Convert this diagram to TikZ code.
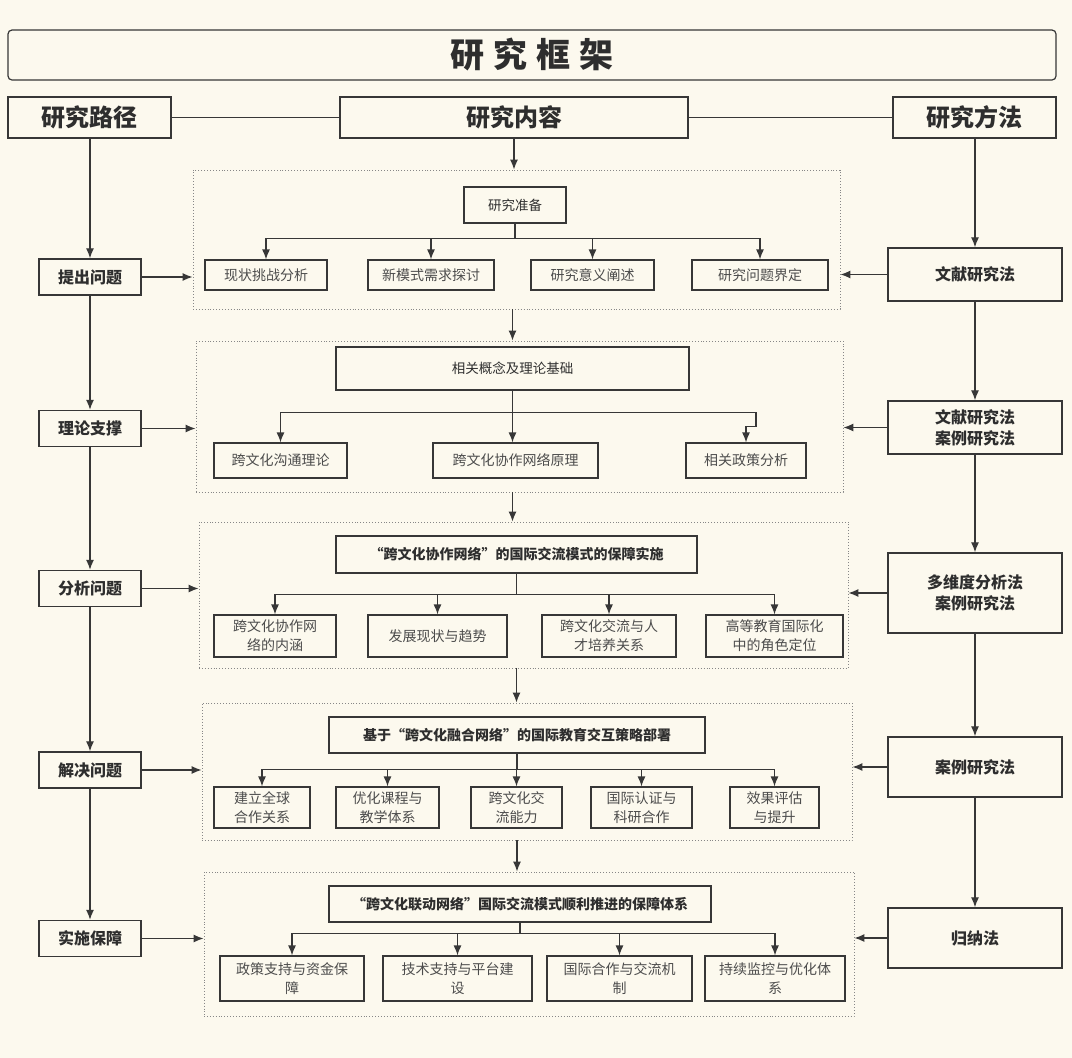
\documentclass[tikz,border=0pt]{standalone}
\usepackage{fontspec}
\setmainfont{Noto Sans CJK SC}
\usetikzlibrary{arrows.meta}
\definecolor{PaperBg}{RGB}{252,249,238}
\definecolor{InkGray}{RGB}{55,55,55}
\definecolor{FrameGray}{RGB}{135,135,135}
\tikzset{
  sz/.style 2 args={minimum width=#1pt,minimum height=#2pt},
  box/.style={draw=InkGray,line width=1.4pt,align=center,inner sep=2pt,text=black!82},
  titlebox/.style={box,rounded corners=4pt,line width=1.2pt,font=\fontsize{34}{40}\selectfont\bfseries},
  headbox/.style={box,font=\fontsize{24}{28}\selectfont\bfseries},
  sidebox/.style={box,font=\fontsize{16}{21}\selectfont\bfseries},
  subbox/.style={box,font=\fontsize{13.5}{18}\selectfont},
  keybox/.style={box,font=\fontsize{14}{18}\selectfont\bfseries},
  leaf/.style={box,line width=1.2pt,font=\fontsize{14}{19}\selectfont,text=black!70},
  group/.style={draw=FrameGray,dotted,line width=0.9pt},
  arr/.style={-{Latex[length=10pt,width=8pt]},line width=1.2pt,draw=InkGray},
  link/.style={line width=1.2pt,draw=InkGray}
}

\begin{document}
\begin{tikzpicture}[x=1pt,y=-1pt]
  \fill[PaperBg] (0,0) rectangle (1072,1058);
  \useasboundingbox (0,0) rectangle (1072,1058);

  % top rows
  \node[titlebox,sz={1048}{50}] (title) at (532,55) {研\hspace{9pt}究\hspace{9pt}框\hspace{9pt}架};
  \node[headbox,sz={163}{41}] (lpath) at (89.5,117.5) {研究路径};
  \node[headbox,sz={348}{41}] (content) at (514,117.5) {研究内容};
  \node[headbox,sz={163}{41}] (mpath) at (974.5,117.5) {研究方法};
  \draw[link] (lpath) -- (content);
  \draw[link] (content) -- (mpath);

  % left column
  \node[sidebox,sz={102}{36}] (q1) at (90,277) {提出问题};
  \node[sidebox,sz={102}{36}] (q2) at (90,428.5) {理论支撑};
  \node[sidebox,sz={102}{36}] (q3) at (90,588.5) {分析问题};
  \node[sidebox,sz={102}{36}] (q4) at (90,770) {解决问题};
  \node[sidebox,sz={102}{36}] (q5) at (90,938.5) {实施保障};

  % right column
  \node[sidebox,sz={174}{53}] (m1) at (975,274.5) {文献研究法};
  \node[sidebox,sz={174}{53}] (m2) at (975,427.5) {文献研究法\\案例研究法};
  \node[sidebox,sz={174}{80}] (m3) at (975,593) {多维度分析法\\案例研究法};
  \node[sidebox,sz={174}{60}] (m4) at (975,767) {案例研究法};
  \node[sidebox,sz={174}{60}] (m5) at (975,938) {归纳法};

  % dotted groups
  \node[group,sz={647}{139}] (c1) at (516.5,239.5) {};
  \node[group,sz={647}{151}] (c2) at (519.5,416.5) {};
  \node[group,sz={649}{146}] (c3) at (523.5,595) {};
  \node[group,sz={650}{137}] (c4) at (527,771.5) {};
  \node[group,sz={650}{144}] (c5) at (529,944) {};

  % group 1
  \node[subbox,sz={102}{36}] (h1) at (515,205) {研究准备};
  \node[leaf,sz={122}{30}] (l11) at (266,275) {现状挑战分析};
  \node[leaf,sz={126}{30}] (l12) at (431,275) {新模式需求探讨};
  \node[leaf,sz={123}{30}] (l13) at (592.5,275) {研究意义阐述};
  \node[leaf,sz={136}{30}] (l14) at (760,275) {研究问题界定};

  % group 2
  \node[subbox,sz={353}{43}] (h2) at (512.5,368.5) {相关概念及理论基础};
  \node[leaf,sz={133}{35}] (l21) at (280.5,460.5) {跨文化沟通理论};
  \node[leaf,sz={165}{35}] (l22) at (515.5,460.5) {跨文化协作网络原理};
  \node[leaf,sz={120}{35}] (l23) at (746,460.5) {相关政策分析};

  % group 3
  \node[keybox,sz={361}{37}] (h3) at (516.5,554.5) {“跨文化协作网络”的国际交流模式的保障实施};
  \node[leaf,sz={122}{42}] (l31) at (275,636) {跨文化协作网\\络的内涵};
  \node[leaf,sz={139}{42}] (l32) at (437.5,636) {发展现状与趋势};
  \node[leaf,sz={134}{42}] (l33) at (609,636) {跨文化交流与人\\才培养关系};
  \node[leaf,sz={137}{42}] (l34) at (774.5,636) {高等教育国际化\\中的角色定位};

  % group 4
  \node[keybox,sz={376}{36}] (h4) at (517,735) {基于“跨文化融合网络”的国际教育交互策略部署};
  \node[leaf,sz={96}{41}] (l41) at (262,807.5) {建立全球\\合作关系};
  \node[leaf,sz={103}{41}] (l42) at (387.5,807.5) {优化课程与\\教学体系};
  \node[leaf,sz={91}{41}] (l43) at (516.5,807.5) {跨文化交\\流能力};
  \node[leaf,sz={101}{41}] (l44) at (641.5,807.5) {国际认证与\\科研合作};
  \node[leaf,sz={89}{41}] (l45) at (774.5,807.5) {效果评估\\与提升};

  % group 5
  \node[keybox,sz={382}{36}] (h5) at (520,904) {“跨文化联动网络”国际交流模式顺利推进的保障体系};
  \node[leaf,sz={144}{45}] (l51) at (292,978.5) {政策支持与资金保\\障};
  \node[leaf,sz={149}{45}] (l52) at (457.5,978.5) {技术支持与平台建\\设};
  \node[leaf,sz={145}{45}] (l53) at (619.5,978.5) {国际合作与交流机\\制};
  \node[leaf,sz={140}{45}] (l54) at (775,978.5) {持续监控与优化体\\系};

  % column chains
  \draw[arr] (lpath.south -| q1) -- (q1);
  \foreach \a/\b in {q1/q2,q2/q3,q3/q4,q4/q5}
    \draw[arr] (\a) -- (\b);
  \draw[arr] (mpath.south -| m1) -- (m1);
  \foreach \a/\b in {m1/m2,m2/m3,m3/m4,m4/m5}
    \draw[arr] (\a) -- (\b);
  \foreach \a/\b in {q1/c1,q2/c2,q3/c3,q4/c4,q5/c5}
    \draw[arr] (\a.east) -- (\a.east -| \b.west);
  \foreach \a/\b in {m1/c1,m2/c2,m3/c3,m4/c4,m5/c5}
    \draw[arr] (\a.west) -- (\a.west -| \b.east);

  % middle chain
  \draw[arr] (content.south) -- (content.south |- c1.north);
  \draw[arr] (c1.south -| h2.north) -- (c2.north -| h2.north);
  \draw[arr] (c2.south -| h2.north) -- (c3.north -| h2.north);
  \draw[arr] (c3.south -| h3.north) -- (c4.north -| h3.north);
  \draw[arr] (c4.south -| h4.north) -- (c5.north -| h4.north);

  % branches
  \path (h1.south) ++(0,15) coordinate (b1);
  \draw[link] (h1.south) -- (b1);
  \foreach \n in {l11,l12,l13,l14}
    \draw[arr] (b1) -| (\n.north);

  \path (h2.south) ++(0,22) coordinate (b2);
  \draw[link] (h2.south) -- (b2);
  \draw[arr] (b2) -| (l21.north);
  \draw[arr] (b2) -- (b2 |- l22.north);
  \draw[arr] (b2) -| ([xshift=10pt,yshift=16pt]l23.north) -| (l23.north);

  \path (h3.south) ++(0,21) coordinate (b3);
  \draw[link] (h3.south) -- (b3);
  \foreach \n in {l31,l32,l33,l34}
    \draw[arr] (b3) -| (\n.north);

  \path (h4.south) ++(0,16) coordinate (b4);
  \draw[link] (h4.south) -- (b4);
  \foreach \n in {l41,l42,l43,l44,l45}
    \draw[arr] (b4) -| (\n.north);

  \path (h5.south) ++(0,11) coordinate (b5);
  \draw[link] (h5.south) -- (b5);
  \foreach \n in {l51,l52,l53,l54}
    \draw[arr] (b5) -| (\n.north);
\end{tikzpicture}
\end{document}
